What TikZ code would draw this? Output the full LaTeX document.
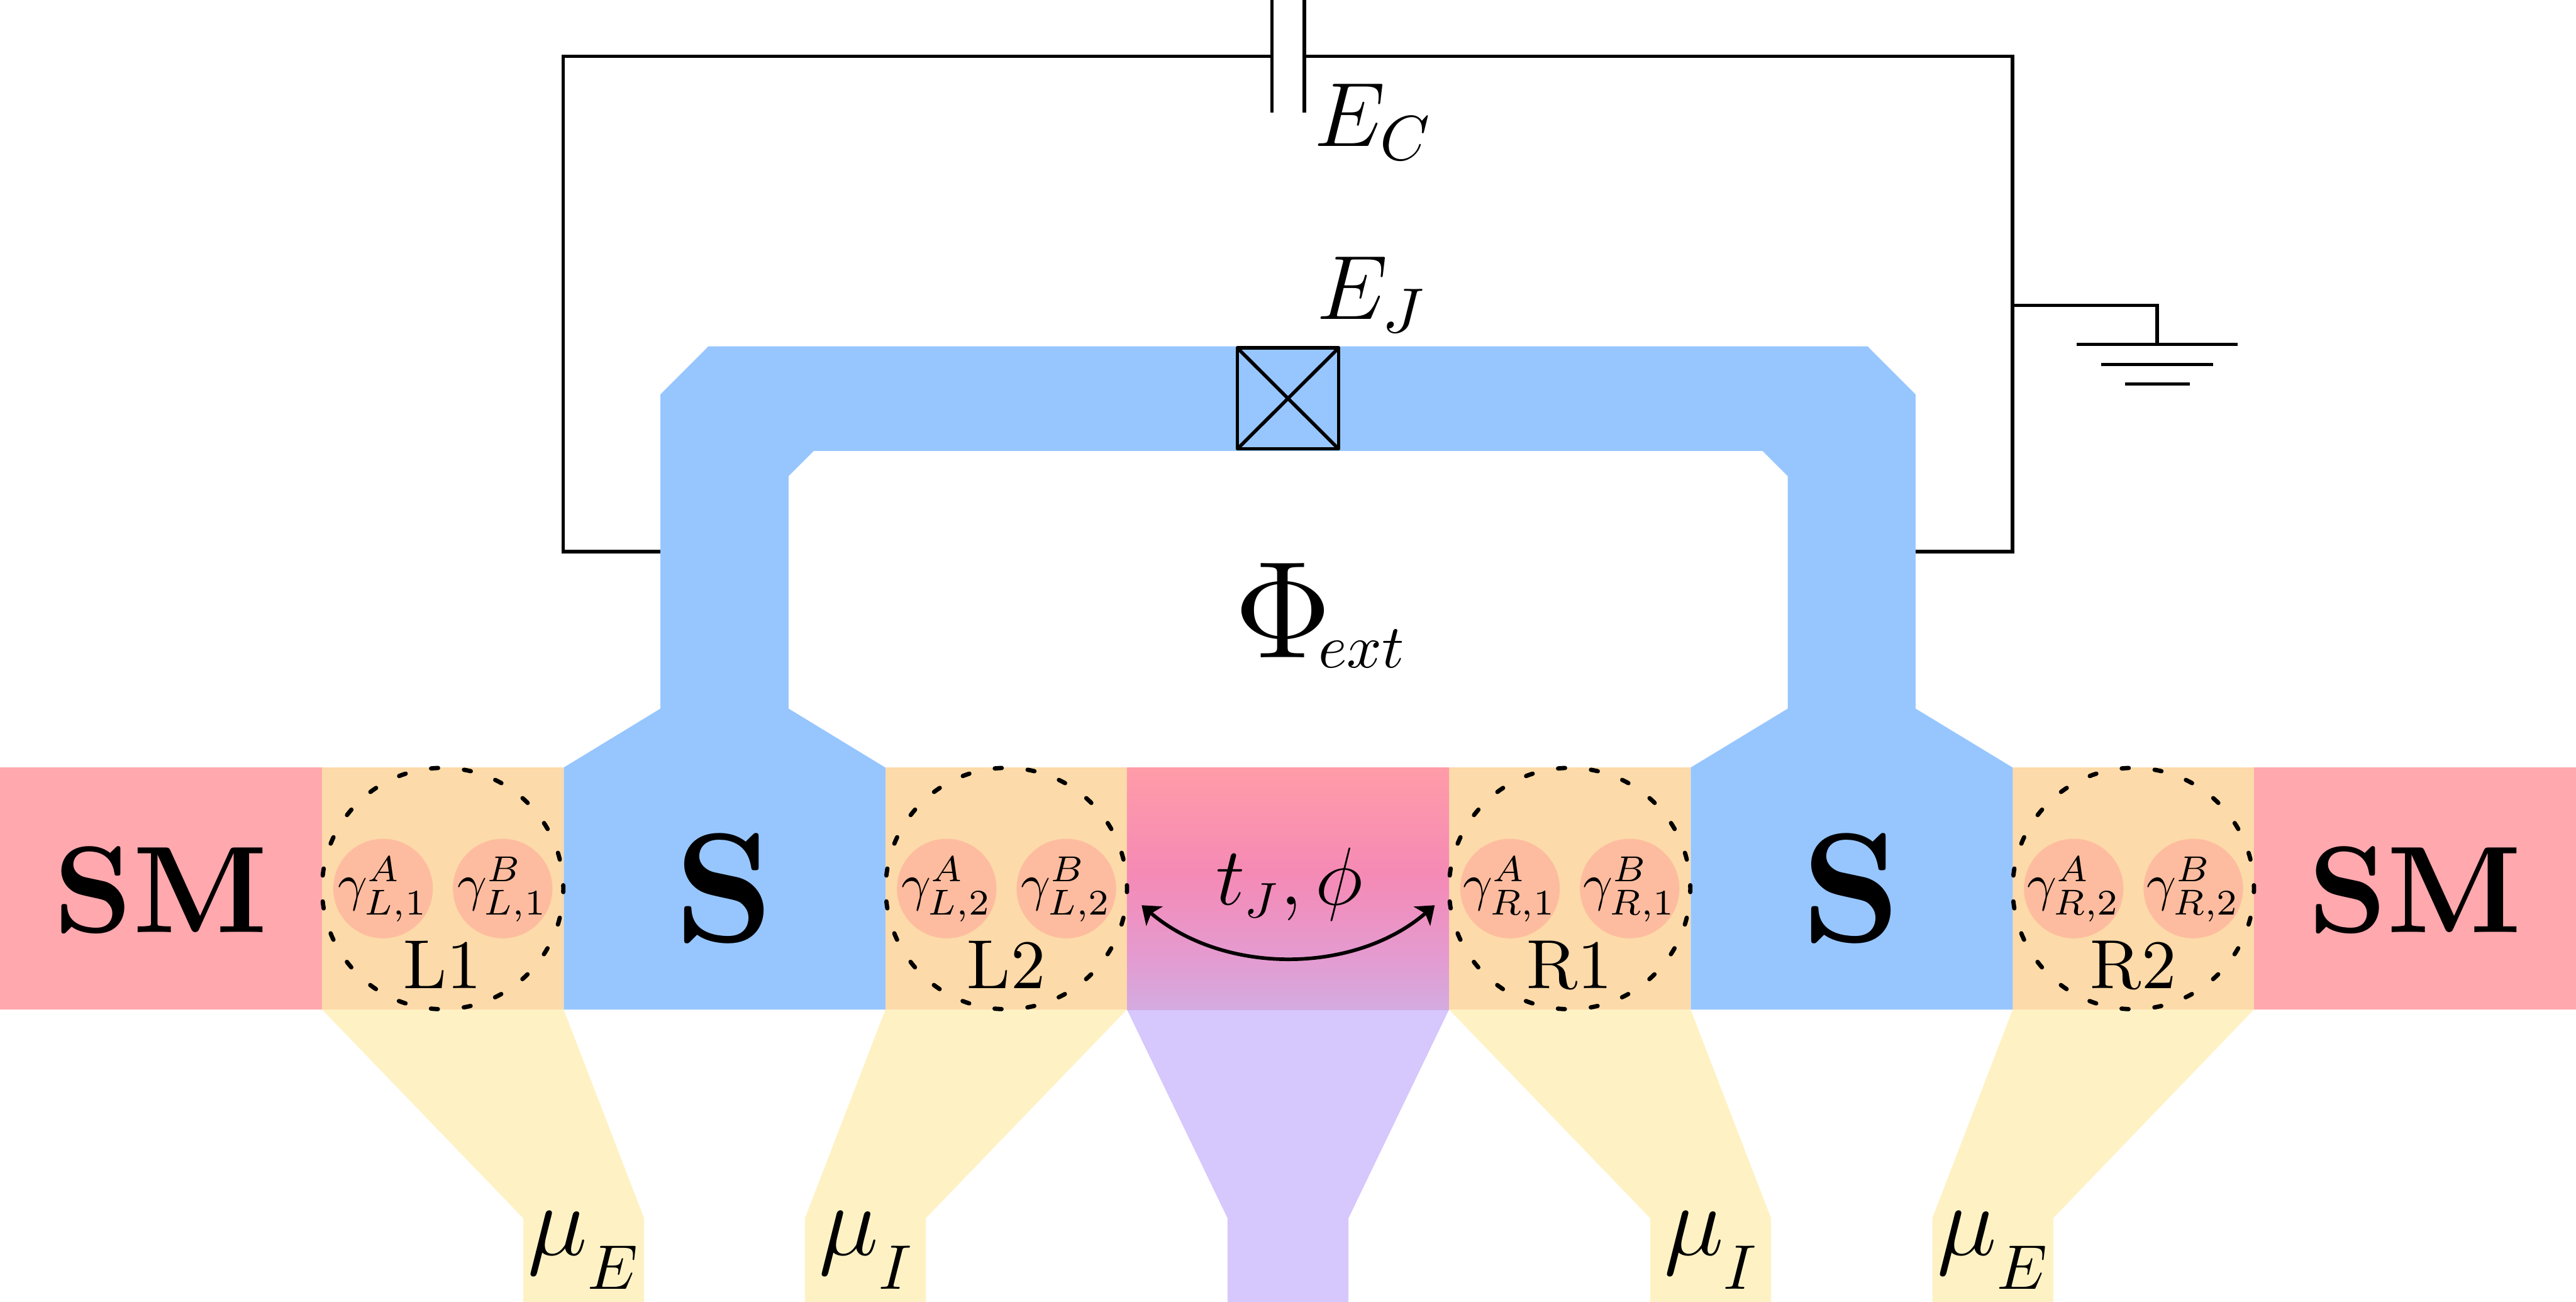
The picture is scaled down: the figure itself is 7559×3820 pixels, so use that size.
\documentclass[tikz,border=0pt]{standalone}
\usepackage{amsmath}
\usepackage{graphicx}
\usetikzlibrary{arrows.meta}
\definecolor{smc}{HTML}{FFA8AE}
\definecolor{orc}{HTML}{FDDAA9}
\definecolor{blc}{HTML}{97C6FE}
\definecolor{yec}{HTML}{FEF2C5}
\definecolor{puc}{HTML}{D6C7FC}
\definecolor{cic}{HTML}{FDBC9F}
\definecolor{gra}{HTML}{FF9CA8}
\definecolor{grb}{HTML}{F58AB5}
\definecolor{grm}{HTML}{E59ACF}
\definecolor{grc}{HTML}{D4ABE0}
\newcommand{\ssb}[2]{\scalebox{#1}{$\scriptstyle #2$}}
\tikzset{
  lab/.style={inner sep=0pt,outer sep=0pt,scale=#1},
  big/.style={inner sep=0pt,outer sep=0pt,scale=#1,font=\Large},
  wire/.style={draw=black,line width=2.9pt,line cap=butt,line join=miter},
  majo/.style={fill=cic,draw=none},
  dot/.style={draw=black,line width=3.6pt,line cap=round,dash pattern=on 5.8pt off 21.71pt,dash phase=2.9pt}
}
\begin{document}
\begin{tikzpicture}[x=0.01cm,y=-0.01cm]
\useasboundingbox (0,0) rectangle (7559,3820);
% band
\fill[smc] (0,2252) rectangle (945,2962);
\fill[smc] (6614,2252) rectangle (7559,2962);
\foreach \xa/\xb in {945/1654,2598/3307,4252/4961,5906/6614}{\fill[orc] (\xa,2252) rectangle (\xb,2962);}
% leads
\fill[yec] (945,2962) -- (1535,3574) -- (1535,3820) -- (1890,3820) -- (1890,3574) -- (1654,2962) -- cycle;
\fill[yec] (2598,2962) -- (2362,3574) -- (2362,3820) -- (2717,3820) -- (2717,3574) -- (3307,2962) -- cycle;
\fill[yec] (4252,2962) -- (4842,3574) -- (4842,3820) -- (5197,3820) -- (5197,3574) -- (4961,2962) -- cycle;
\fill[yec] (5906,2962) -- (5670,3574) -- (5670,3820) -- (6025,3820) -- (6025,3574) -- (6614,2962) -- cycle;
\fill[puc] (3307,2962) -- (3602,3574) -- (3602,3820) -- (3957,3820) -- (3957,3574) -- (4252,2962) -- cycle;
% junction region
\fill[top color=gra,bottom color=grb] (3307,2252) rectangle (4252,2560);
\fill[top color=grb,bottom color=grm] (3307,2559) rectangle (4252,2800);
\fill[top color=grm,bottom color=grc] (3307,2799) rectangle (4252,2962);
% superconductor
\fill[blc] (1654,2962) -- (1654,2252) -- (1938,2079) -- (1938,1157) -- (2079,1016) -- (5480,1016) -- (5621,1157) -- (5621,2079) -- (5906,2252) -- (5906,2962) -- (4961,2962) -- (4961,2252) -- (5246,2079) -- (5246,1397) -- (5172,1323) -- (2388,1323) -- (2314,1397) -- (2314,2079) -- (2598,2252) -- (2598,2962) -- cycle;
% circuit
\draw[wire] (1938,1618) -- (1653,1618) -- (1653,165) -- (3732,165);
\draw[wire] (3827,165) -- (5905,165) -- (5905,1618) -- (5621,1618);
\draw[wire] (3732,0) -- (3732,330);
\draw[wire] (3827,0) -- (3827,330);
\draw[wire] (5905,896) -- (6330,896) -- (6330,1010);
\draw[wire] (6094,1010) -- (6566,1010);
\draw[wire] (6165,1069) -- (6495,1069);
\draw[wire] (6236,1127) -- (6425,1127);
% josephson junction
\draw[wire,line join=round] (3631,1021) rectangle (3928,1317);
\draw[wire] (3631,1021) -- (3928,1317);
\draw[wire] (3631,1317) -- (3928,1021);
% quantum dots
\foreach \cx in {1299,2953,4606,6260}{
  \fill[majo] (\cx-175,2607) circle[radius=146];
  \fill[majo] (\cx+176,2607) circle[radius=146];
  \draw[dot] (\cx,2607) circle[radius=354];
}
% dot labels
\node[lab=4.3,anchor=base] (g1a) at (1124,2642) {$\gamma_{L,1}^{A}$};
\node[lab=4.3,anchor=base] (g1b) at (1475,2642) {$\gamma_{L,1}^{B}$};
\node[lab=4.3,anchor=base] (g2a) at (2778,2642) {$\gamma_{L,2}^{A}$};
\node[lab=4.3,anchor=base] (g2b) at (3129,2642) {$\gamma_{L,2}^{B}$};
\node[lab=4.3,anchor=base] (g3a) at (4431,2642) {$\gamma_{R,1}^{A}$};
\node[lab=4.3,anchor=base] (g3b) at (4782,2642) {$\gamma_{R,1}^{B}$};
\node[lab=4.3,anchor=base] (g4a) at (6085,2642) {$\gamma_{R,2}^{A}$};
\node[lab=4.3,anchor=base] (g4b) at (6436,2642) {$\gamma_{R,2}^{B}$};
\node[lab=5.8,anchor=base] (l1) at (1299,2900) {L1};
\node[lab=5.8,anchor=base] (l2) at (2953,2900) {L2};
\node[lab=5.8,anchor=base] (r1) at (4606,2900) {R1};
\node[lab=5.8,anchor=base] (r2) at (6260,2900) {R2};
% big labels
\node[lab=10.3,anchor=base] (smleft) at (472,2735) {\textbf{SM}};
\node[lab=10.3,anchor=base] (smright) at (7087,2735) {\textbf{SM}};
\node[lab=13,anchor=base] (sleft) at (2126,2763) {\textbf{S}};
\node[lab=13,anchor=base] (sright) at (5433,2763) {\textbf{S}};
\node[big=5.28,anchor=base west] (ec) at (3856,429) {$E_C$};
\node[big=5.28,anchor=base west] (ej) at (3864,936) {$E_J$};
\node[big=8,anchor=base west] (phi) at (3621,1930) {$\Phi_{\hspace{-1.4pt}\raisebox{1.1pt}{\ssb{.64}{ext}}}$};
\node[big=4.75,anchor=base] (tj) at (3784,2655) {$t_{\ssb{.87}{J}},\phi$};
\node[big=5.85,anchor=base] (mu1) at (1716,3682) {$\mu_{\raisebox{-2.7pt}{\ssb{.9}{E}}}$};
\node[big=5.85,anchor=base] (mu2) at (2544,3682) {$\mu_{\raisebox{-2.7pt}{\ssb{.9}{I}}}$};
\node[big=5.85,anchor=base] (mu3) at (5024,3682) {$\mu_{\raisebox{-2.7pt}{\ssb{.9}{I}}}$};
\node[big=5.85,anchor=base] (mu4) at (5851,3682) {$\mu_{\raisebox{-2.7pt}{\ssb{.9}{E}}}$};
% tunnelling arrow
\coordinate (al) at (3350,2656);
\coordinate (ar) at (4210,2656);
\draw[line width=3pt,{Stealth[length=14pt,width=21pt,inset=3.5pt]}-{Stealth[length=14pt,width=21pt,inset=3.5pt]}] (al) .. controls (3590,2860) and (3973,2860) .. (ar);
\end{tikzpicture}
\end{document}
